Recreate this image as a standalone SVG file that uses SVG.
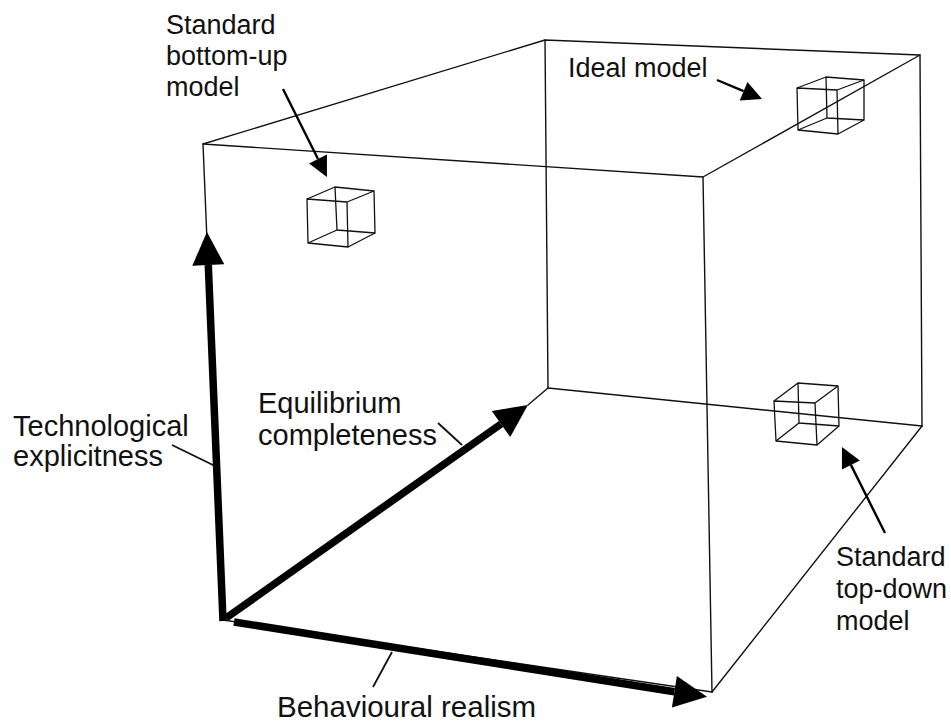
<svg xmlns="http://www.w3.org/2000/svg" width="951" height="726" viewBox="0 0 951 726">
<style>
.thin{fill:none;stroke:#111;stroke-width:1.4;stroke-linejoin:round;stroke-linecap:round}
.cube{fill:none;stroke:#111;stroke-width:1.3;stroke-linejoin:round}
.axis{fill:none;stroke:#000;stroke-width:7.5;stroke-linecap:butt}
.ptr{fill:none;stroke:#000;stroke-width:2.4}
.lead{fill:none;stroke:#111;stroke-width:1.8}
text{font-family:"Liberation Sans",Arial,Helvetica,sans-serif;fill:#111}
</style>
<defs>
<marker id="bigHead" markerUnits="userSpaceOnUse" markerWidth="34" markerHeight="34" refX="0" refY="16" orient="auto" overflow="visible">
<path d="M0,0 L33,16 L0,32 Z" fill="#000"/>
</marker>
<marker id="smallHead" markerUnits="userSpaceOnUse" markerWidth="22" markerHeight="22" refX="0" refY="10" orient="auto" overflow="visible">
<path d="M0,0 L20,10 L0,20 Z" fill="#000"/>
</marker>
</defs>
<rect width="951" height="726" fill="#fff"/>

<g id="box">
<polygon class="thin" points="203,144 545,40 920,55 703,177"/>
<line class="thin" x1="203" y1="144" x2="208" y2="265"/>
<line class="thin" x1="703" y1="177" x2="712" y2="692"/>
<line class="thin" x1="920" y1="55" x2="922" y2="426"/>
<line class="thin" x1="545" y1="40" x2="548" y2="388"/>
<line class="thin" x1="548" y1="388" x2="922" y2="426"/>
<line class="thin" x1="922" y1="426" x2="712" y2="692"/>
<line class="thin" x1="528" y1="405" x2="548" y2="388"/>
<line class="thin" x1="223" y1="620" x2="712" y2="692"/>
</g>

<g id="cube-bottom-up">
<polygon class="cube" points="307,199 347,202 348,247 308,243"/>
<polygon class="cube" points="335,187 374,191 375,233 337,230"/>
<path class="cube" d="M307,199 L335,187 M347,202 L374,191 M348,247 L375,233 M308,243 L337,230"/>
</g>

<g id="cube-ideal">
<polygon class="cube" points="797,88 837,90 838,134 798,130"/>
<polygon class="cube" points="826,77 864,80 864,120 827,118"/>
<path class="cube" d="M797,88 L826,77 M837,90 L864,80 M838,134 L864,120 M798,130 L827,118"/>
</g>

<g id="cube-top-down">
<polygon class="cube" points="774,401 815,403 817,445 776,441"/>
<polygon class="cube" points="798,383 838,386 839,426 799,423"/>
<path class="cube" d="M774,401 L798,383 M815,403 L838,386 M817,445 L839,426 M776,441 L799,423"/>
</g>

<g id="connectors">
<line class="axis" x1="223" y1="621" x2="208.3" y2="265" marker-end="url(#bigHead)"/>
<line class="axis" x1="226" y1="618" x2="501" y2="424" marker-end="url(#bigHead)"/>
<line class="axis" x1="234" y1="622" x2="674.4" y2="691.7" marker-end="url(#bigHead)"/>
<line class="ptr" x1="283" y1="89" x2="318" y2="159" marker-end="url(#smallHead)"/>
<line class="ptr" x1="717" y1="80" x2="743.6" y2="91.2" marker-end="url(#smallHead)"/>
<line class="ptr" x1="885" y1="533" x2="850.9" y2="464.9" marker-end="url(#smallHead)"/>
<line class="lead" x1="172" y1="445" x2="215" y2="466"/>
<line class="lead" x1="438" y1="423" x2="462" y2="445"/>
<line class="lead" x1="392" y1="652" x2="373" y2="687"/>
</g>

<g id="label-bottom-up">
<text x="166" y="34" font-size="27">Standard</text>
<text x="166" y="65" font-size="27">bottom-up</text>
<text x="166" y="96" font-size="27">model</text>
</g>
<g id="label-ideal">
<text x="568" y="77" font-size="27">Ideal model</text>
</g>
<g id="label-technological">
<text x="13" y="436" font-size="29">Technological</text>
<text x="13" y="466" font-size="29">explicitness</text>
</g>
<g id="label-equilibrium">
<text x="258" y="413" font-size="29">Equilibrium</text>
<text x="258" y="445" font-size="29">completeness</text>
</g>
<g id="label-top-down">
<text x="836" y="566" font-size="27">Standard</text>
<text x="836" y="598" font-size="27">top-down</text>
<text x="836" y="630" font-size="27">model</text>
</g>
<g id="label-behavioural">
<text x="277" y="717" font-size="29.5">Behavioural realism</text>
</g>
</svg>
